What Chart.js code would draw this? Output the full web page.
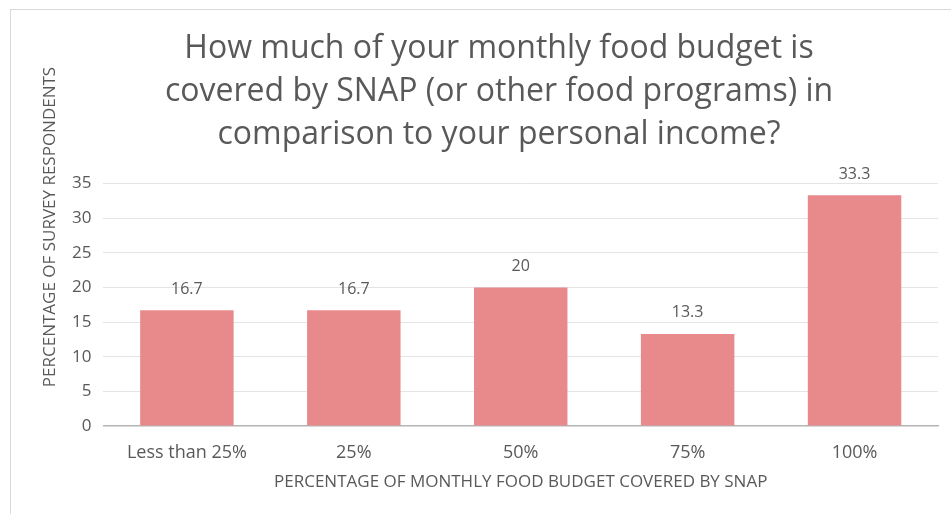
<!DOCTYPE html>
<html lang="en">
<head>
  <meta charset="UTF-8">
  <title>SNAP food budget coverage</title>
  <style>
    html, body { margin: 0; padding: 0; background: #fff; }
    .frame { position: absolute; left: 10px; top: 9px; width: 960px; height: 520px; border: 1px solid #d9d9d9; box-sizing: border-box; }
    .chart-box { position: absolute; left: 0; top: 0; width: 951px; height: 514px; }
  </style>
</head>
<body>
  <div class="frame"></div>
  <div class="chart-box"><canvas id="chart" width="951" height="514"></canvas></div>
  <script src="https://cdn.jsdelivr.net/npm/chart.js"></script>
  <script>
    // datos
    const categorias = ['Less than 25%', '25%', '50%', '75%', '100%'];
    const porcentajes = [16.7, 16.7, 20, 13.3, 33.3];
    const etiquetas = ['16.7', '16.7', '20', '13.3', '33.3'];
    const tituloLineas = [
      'How much of your monthly food budget is',
      'covered by SNAP (or other food programs) in',
      'comparison to your personal income?'
    ];
    const tituloY = 'PERCENTAGE OF SURVEY RESPONDENTS';
    const tituloX = 'PERCENTAGE OF MONTHLY FOOD BUDGET COVERED BY SNAP';

    const gris = '#595959';
    const fuente = '"Open Sans", sans-serif';

    // etiquetas de valor encima de cada barra + titulo del eje Y (en Excel queda mas arriba que el centro)
    const extras = {
      id: 'extras',
      afterDatasetsDraw(chart) {
        const ctx = chart.ctx;
        const meta = chart.getDatasetMeta(0);
        ctx.save();
        ctx.font = '16px ' + fuente;
        ctx.fillStyle = gris;
        ctx.textAlign = 'center';
        ctx.textBaseline = 'middle';
        meta.data.forEach((bar, i) => {
          ctx.fillText(etiquetas[i], bar.x, bar.y - 21);
        });
        ctx.restore();

        ctx.save();
        ctx.font = '17px ' + fuente;
        ctx.fillStyle = gris;
        ctx.textAlign = 'center';
        ctx.textBaseline = 'middle';
        ctx.translate(50, 227);
        ctx.rotate(-Math.PI / 2);
        ctx.fillText(tituloY, 0, 0);
        ctx.restore();
      }
    };

    new Chart(document.getElementById('chart'), {
      type: 'bar',
      data: {
        labels: categorias,
        datasets: [{
          data: porcentajes,
          backgroundColor: '#e8898b',
          barPercentage: 1,
          categoryPercentage: 0.56
        }]
      },
      options: {
        responsive: false,
        animation: false,
        layout: { padding: { left: 60, right: 13, top: 27, bottom: 22 } },
        plugins: {
          legend: { display: false },
          tooltip: { enabled: false },
          title: {
            display: true,
            text: tituloLineas,
            color: gris,
            font: { family: fuente, size: 32, weight: 'normal', lineHeight: 1.35 },
            padding: { top: 0, bottom: 27 }
          }
        },
        scales: {
          x: {
            grid: { display: false },
            border: { color: '#b4b4b4', width: 1.5 },
            ticks: { color: gris, font: { family: fuente, size: 18 }, padding: 8 },
            title: {
              display: true,
              text: tituloX,
              color: gris,
              font: { family: fuente, size: 17 },
              padding: { top: 0, bottom: 0 }
            }
          },
          y: {
            min: 0,
            max: 35,
            ticks: { stepSize: 5, color: gris, font: { family: fuente, size: 17 }, padding: 12 },
            grid: {
              color: c => c.tick && c.tick.value === 0 ? 'rgba(0,0,0,0)' : '#e4e4e4',
              drawTicks: false
            },
            border: { display: false }
          }
        }
      },
      plugins: [extras]
    });
  </script>
</body>
</html>
